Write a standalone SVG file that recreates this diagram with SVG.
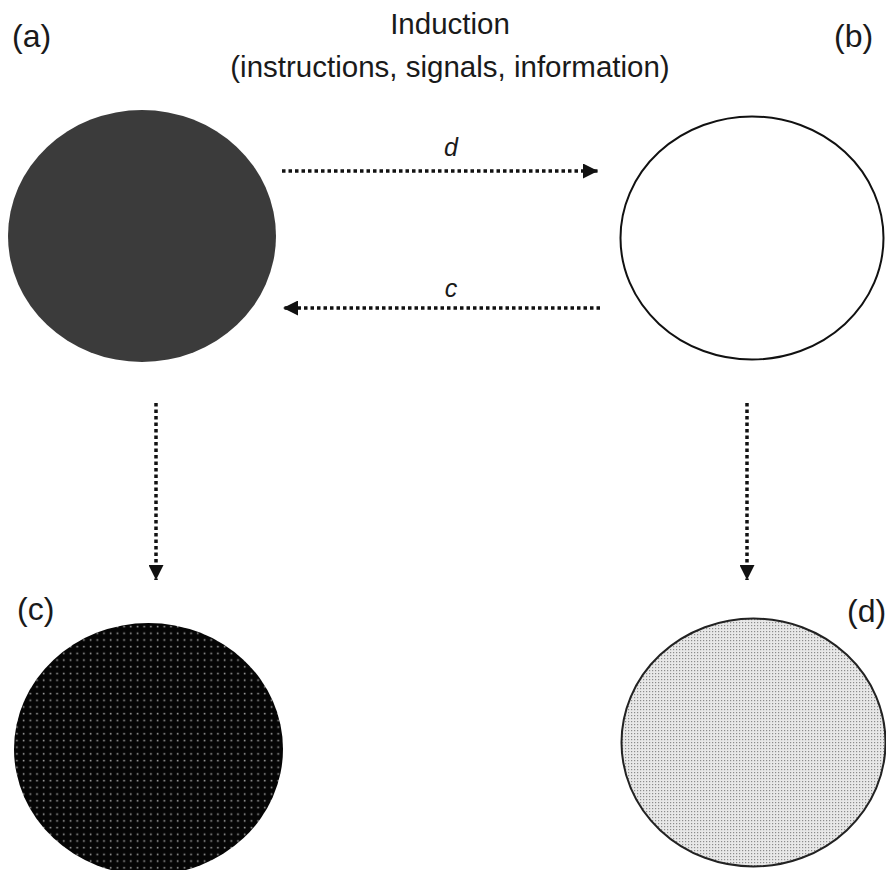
<svg xmlns="http://www.w3.org/2000/svg" width="886" height="870" viewBox="0 0 886 870">
  <defs>
    <style>
      .lbl { font-family: "Liberation Sans", Arial, sans-serif; font-size: 32px; fill: #1a1a1a; }
      .title { font-family: "Liberation Sans", Arial, sans-serif; font-size: 29.5px; fill: #1a1a1a; text-anchor: middle; }
      .ital { font-family: "Liberation Sans", Arial, sans-serif; font-size: 25px; font-style: italic; fill: #1a1a1a; text-anchor: middle; }
      .conn { stroke: #111; stroke-width: 3.5; stroke-dasharray: 3.5 3; fill: none; }
    </style>
    <marker id="arrow" viewBox="0 0 10 10" refX="10" refY="5" markerWidth="15" markerHeight="15" markerUnits="userSpaceOnUse" orient="auto">
      <path d="M0,0 L10,5 L0,10 Z" fill="#111"/>
    </marker>
    <pattern id="darkdots" width="6.7" height="6.7" patternUnits="userSpaceOnUse">
      <rect width="6.7" height="6.7" fill="#050505"/>
      <rect x="2.7" y="2.7" width="1.6" height="1.6" fill="#a0a0a0"/>
    </pattern>
    <pattern id="lightdots" width="3" height="3" patternUnits="userSpaceOnUse">
      <rect width="3" height="3" fill="#e8e8e8"/>
      <rect x="1" y="1" width="1.2" height="1.2" fill="#8c8c8c"/>
    </pattern>
  </defs>
  <rect width="886" height="870" fill="#ffffff"/>

  <g id="title">
    <text class="title" x="450" y="34">Induction</text>
    <text class="title" x="450" y="77">(instructions, signals, information)</text>
  </g>

  <g id="node-a">
    <text class="lbl" x="12" y="47">(a)</text>
    <ellipse cx="142" cy="236" rx="134" ry="126" fill="#3b3b3b"/>
  </g>

  <g id="node-b">
    <text class="lbl" x="834" y="47">(b)</text>
    <ellipse cx="752" cy="238" rx="131.5" ry="121.5" fill="#ffffff" stroke="#111" stroke-width="2"/>
  </g>

  <g id="node-c">
    <text class="lbl" x="17" y="620">(c)</text>
    <ellipse cx="148.5" cy="749" rx="134.5" ry="126" fill="url(#darkdots)"/>
  </g>

  <g id="node-d">
    <text class="lbl" x="847" y="622">(d)</text>
    <ellipse cx="753.5" cy="742.5" rx="132" ry="124" fill="url(#lightdots)" stroke="#222" stroke-width="2"/>
  </g>

  <g id="connectors">
    <line class="conn" x1="282" y1="171" x2="598" y2="171" marker-end="url(#arrow)"/>
    <text class="ital" x="451" y="156">d</text>
    <line class="conn" x1="600" y1="308" x2="283" y2="308" marker-end="url(#arrow)"/>
    <text class="ital" x="451" y="297">c</text>
    <line class="conn" x1="156" y1="403" x2="156" y2="580" marker-end="url(#arrow)"/>
    <line class="conn" x1="747" y1="403" x2="747" y2="580" marker-end="url(#arrow)"/>
  </g>
</svg>
